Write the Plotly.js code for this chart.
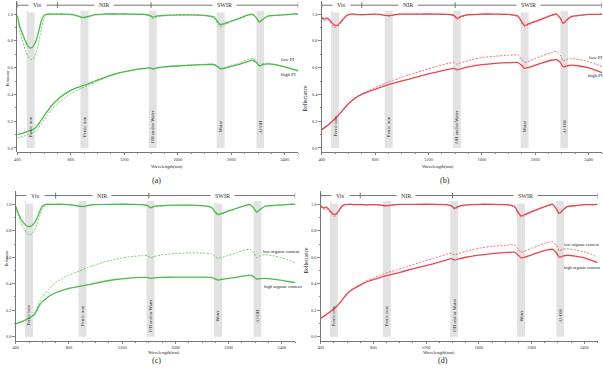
<!DOCTYPE html>
<html>
<head>
<meta charset="utf-8">
<script src="https://cdn.plot.ly/plotly-3.0.1.min.js"></script>
<style>
  html, body { margin: 0; padding: 0; background: #fff; }
  #chart { width: 603px; height: 372px; }
</style>
</head>
<body>
<div id="chart"></div>
<script>
// Wavelength grid (nm) shared by every spectrum
const wavelength = [400,420,440,460,480,500,520,540,560,580,
  600,625,650,700,750,800,850,880,910,940,
  980,1050,1150,1250,1350,1390,1415,1440,1500,1600,
  1700,1800,1870,1900,1920,1945,2000,2060,2120,2160,
  2190,2210,2235,2270,2330,2400,2460,2500];

// (a) green, PI groups: continuum-removed (upper) and reflectance (lower)
const aUpperHigh = [0.990,0.900,0.850,0.800,0.760,0.745,0.760,0.800,0.870,0.950,
  0.990,1.000,1.000,1.000,1.000,0.997,0.987,0.977,0.976,0.985,
  0.995,1.000,1.000,1.000,0.998,0.990,0.977,0.985,0.990,0.993,
  0.994,0.990,0.978,0.940,0.920,0.928,0.948,0.968,0.992,0.998,
  0.968,0.940,0.960,0.985,0.990,0.995,1.000,1.000];
const aUpperLow = [0.985,0.870,0.800,0.730,0.685,0.660,0.665,0.710,0.790,0.890,
  0.970,0.998,1.000,1.000,1.000,0.995,0.983,0.972,0.971,0.982,
  0.993,1.000,1.000,1.000,0.997,0.985,0.966,0.978,0.987,0.990,
  0.992,0.988,0.972,0.925,0.905,0.917,0.942,0.964,0.989,0.996,
  0.965,0.935,0.957,0.982,0.988,0.994,0.998,1.000];
const aLowerHigh = [0.100,0.105,0.110,0.118,0.125,0.132,0.140,0.155,0.180,0.210,
  0.240,0.275,0.310,0.360,0.400,0.430,0.452,0.462,0.472,0.482,
  0.500,0.525,0.558,0.580,0.594,0.598,0.590,0.596,0.605,0.612,
  0.618,0.622,0.622,0.605,0.590,0.595,0.610,0.625,0.645,0.655,
  0.635,0.612,0.622,0.628,0.622,0.605,0.588,0.575];
const aLowerLow = [0.075,0.080,0.085,0.092,0.100,0.108,0.118,0.130,0.152,0.180,
  0.210,0.245,0.280,0.330,0.372,0.405,0.432,0.446,0.459,0.471,
  0.490,0.520,0.555,0.578,0.593,0.596,0.588,0.595,0.605,0.614,
  0.620,0.625,0.627,0.610,0.595,0.600,0.617,0.635,0.658,0.668,
  0.650,0.625,0.632,0.633,0.622,0.603,0.585,0.572];

// (b) red, PI groups
const bUpperHigh = [0.975,0.962,0.972,0.955,0.930,0.915,0.918,0.938,0.962,0.983,
  0.995,1.000,0.998,0.995,0.997,0.999,0.995,0.990,0.989,0.994,
  0.999,1.000,1.000,1.000,0.998,0.990,0.967,0.980,0.995,1.000,
  1.000,0.998,0.985,0.940,0.915,0.925,0.945,0.968,0.990,1.000,
  0.965,0.930,0.955,0.983,0.990,0.998,0.997,1.000];
const bUpperLow = [0.968,0.950,0.962,0.940,0.915,0.900,0.905,0.928,0.955,0.978,
  0.993,1.000,0.997,0.994,0.996,0.998,0.993,0.987,0.986,0.992,
  0.998,1.000,1.000,1.000,0.997,0.987,0.960,0.975,0.992,0.998,
  0.999,0.996,0.980,0.928,0.905,0.917,0.940,0.965,0.988,0.998,
  0.960,0.925,0.950,0.980,0.988,0.997,0.996,1.000];
const bLowerHigh = [0.136,0.150,0.165,0.182,0.200,0.218,0.240,0.262,0.285,0.308,
  0.330,0.352,0.372,0.400,0.420,0.438,0.456,0.466,0.476,0.484,
  0.495,0.513,0.540,0.565,0.587,0.594,0.583,0.590,0.605,0.622,
  0.632,0.637,0.638,0.615,0.595,0.600,0.618,0.638,0.655,0.660,
  0.635,0.605,0.612,0.618,0.612,0.598,0.578,0.562];
const bLowerLow = [0.136,0.150,0.165,0.182,0.200,0.218,0.240,0.262,0.285,0.308,
  0.331,0.354,0.375,0.405,0.428,0.450,0.472,0.485,0.497,0.507,
  0.520,0.545,0.575,0.605,0.632,0.638,0.625,0.635,0.652,0.675,
  0.685,0.692,0.695,0.660,0.638,0.645,0.668,0.690,0.712,0.720,
  0.690,0.650,0.660,0.668,0.660,0.645,0.623,0.608];

// (c) green, organic content groups
const cUpperHigh = [0.985,0.930,0.885,0.860,0.840,0.832,0.838,0.858,0.895,0.945,
  0.985,1.000,1.000,1.000,1.000,0.998,0.990,0.985,0.984,0.990,
  0.997,1.000,1.000,1.000,0.998,0.990,0.975,0.985,0.990,0.993,
  0.994,0.990,0.978,0.940,0.925,0.930,0.950,0.970,0.990,0.998,
  0.970,0.940,0.960,0.985,0.990,0.996,1.000,1.000];
const cUpperLow = [0.975,0.910,0.860,0.820,0.785,0.770,0.775,0.800,0.850,0.910,
  0.965,0.995,1.000,1.000,1.000,0.997,0.988,0.982,0.981,0.988,
  0.996,1.000,1.000,1.000,0.997,0.988,0.970,0.982,0.988,0.991,
  0.993,0.988,0.975,0.932,0.918,0.925,0.946,0.968,0.988,0.997,
  0.967,0.936,0.957,0.983,0.989,0.995,0.999,1.000];
const cLowerHigh = [0.096,0.104,0.112,0.120,0.130,0.140,0.152,0.168,0.200,0.240,
  0.265,0.285,0.305,0.332,0.350,0.365,0.375,0.380,0.386,0.392,
  0.400,0.415,0.432,0.443,0.448,0.448,0.440,0.445,0.448,0.450,
  0.450,0.450,0.448,0.435,0.428,0.432,0.440,0.450,0.460,0.465,
  0.452,0.435,0.438,0.440,0.435,0.425,0.415,0.408];
const cLowerLow = [0.096,0.104,0.112,0.120,0.130,0.140,0.152,0.172,0.215,0.265,
  0.300,0.330,0.360,0.410,0.440,0.465,0.485,0.496,0.510,0.522,
  0.535,0.560,0.585,0.603,0.612,0.612,0.597,0.605,0.618,0.628,
  0.633,0.632,0.626,0.605,0.592,0.597,0.615,0.635,0.655,0.660,
  0.630,0.597,0.610,0.620,0.612,0.595,0.575,0.558];

// (d) red, organic content groups
const dUpperHigh = [0.990,0.972,0.978,0.965,0.940,0.922,0.930,0.955,0.985,0.998,
  1.000,1.000,0.998,0.997,0.996,0.998,0.995,0.990,0.990,0.994,
  0.999,1.000,1.000,1.000,0.998,0.990,0.970,0.982,0.995,1.000,
  1.000,0.998,0.985,0.935,0.912,0.922,0.945,0.968,0.990,1.000,
  0.962,0.932,0.955,0.983,0.990,0.998,0.997,1.000];
const dUpperLow = [0.982,0.962,0.968,0.952,0.928,0.908,0.918,0.945,0.978,0.995,
  0.999,1.000,0.997,0.996,0.995,0.997,0.993,0.987,0.987,0.992,
  0.998,1.000,1.000,1.000,0.997,0.987,0.963,0.977,0.992,0.998,
  0.999,0.996,0.980,0.925,0.902,0.913,0.940,0.965,0.988,0.998,
  0.958,0.926,0.950,0.980,0.988,0.997,0.996,1.000];
const dLowerHigh = [0.139,0.152,0.165,0.180,0.195,0.210,0.228,0.250,0.275,0.300,
  0.325,0.345,0.362,0.390,0.415,0.432,0.447,0.455,0.463,0.470,
  0.480,0.500,0.525,0.550,0.578,0.590,0.578,0.586,0.600,0.616,
  0.628,0.635,0.638,0.615,0.595,0.600,0.618,0.638,0.655,0.660,
  0.632,0.600,0.608,0.615,0.608,0.595,0.575,0.560];
const dLowerLow = [0.139,0.152,0.165,0.180,0.195,0.210,0.228,0.250,0.275,0.300,
  0.326,0.347,0.365,0.395,0.423,0.445,0.465,0.475,0.485,0.494,
  0.505,0.528,0.560,0.590,0.620,0.630,0.618,0.627,0.645,0.668,
  0.682,0.690,0.693,0.660,0.638,0.645,0.668,0.690,0.712,0.718,
  0.688,0.648,0.660,0.665,0.655,0.640,0.620,0.600];

// Absorption features (nm) and their labels
const bandRanges = [[470, 530], [872, 932], [1383, 1442], [1890, 1950], [2188, 2245]];
const bandNames = ['Ferric iron', 'Ferric iron', 'OH and/or Water', 'Water', 'Al-OH'];

// Spectral regions
const regionEdges = [400, 700, 1400, 2500];
const regionNames = ['Vis', 'NIR', 'SWIR'];

const panelLetters = ['(a)', '(b)', '(c)', '(d)'];
const groupNamesPI = ['low PI', 'high PI'];
const groupNamesOrganic = ['low organic content', 'high organic content'];

const GREEN = '#4dbb4d';
const RED = '#e8464e';
const SERIF = 'Liberation Serif, Times New Roman, serif';

const W = 603, H = 372;
const px = v => v / W;
const py = v => 1 - v / H;

const panels = [
  { color: GREEN, upper: [aUpperHigh, aUpperLow], lower: [aLowerHigh, aLowerLow], groups: groupNamesPI,
    xd: [px(17.3), px(298.2)], yd: [py(152.0), py(0.9)],
    labelPos: [[2355, 0.664], [2355, 0.545]], labelSize: 5, xTitle: [150, 166.5], letter: [150, 180],
    yTitle: [4, 68], yTitleSize: 3.3 },
  { color: RED, upper: [bUpperHigh, bUpperLow], lower: [bLowerHigh, bLowerLow], groups: groupNamesPI,
    xd: [px(321.7), px(602)], yd: [py(152.0), py(0.9)],
    labelPos: [[2385, 0.676], [2378, 0.543]], labelSize: 5, xTitle: [455, 166.5], letter: [452, 180],
    yTitle: [304, 83], yTitleSize: 5.5 },
  { color: GREEN, upper: [cUpperHigh, cUpperLow], lower: [cLowerHigh, cLowerLow], groups: groupNamesOrganic,
    xd: [px(15.7), px(295.2)], yd: [py(340.7), py(191.3)],
    labelPos: [[2243, 0.642], [2250, 0.383]], labelSize: 4.6, xTitle: [147, 355.5], letter: [150, 367],
    yTitle: [3, 268], yTitleSize: 3.3 },
  { color: RED, upper: [dUpperHigh, dUpperLow], lower: [dLowerHigh, dLowerLow], groups: groupNamesOrganic,
    xd: [px(320.7), px(597.5)], yd: [py(340.7), py(191.3)],
    labelPos: [[2232, 0.698], [2232, 0.524]], labelSize: 4.4, xTitle: [456, 355.5], letter: [450, 367],
    yTitle: [305, 276], yTitleSize: 5.5 }
];

const traces = [];
const shapes = [];
const annotations = [];
const layout = {
  width: W, height: H,
  margin: { l: 0, r: 0, t: 0, b: 0 },
  paper_bgcolor: '#fff', plot_bgcolor: '#fff',
  showlegend: false,
  font: { family: SERIF, color: '#222' }
};

const axisColor = '#555';
const tickFont = { family: SERIF, size: 4.4, color: '#333' };

panels.forEach((p, i) => {
  const sfx = i === 0 ? '' : String(i + 1);
  const xr = 'x' + sfx, yr = 'y' + sfx;

  const solid = { color: p.color, width: 1.3, shape: 'spline', smoothing: 0.5 };
  const dashed = { color: p.color, width: 0.9, dash: '2px,1.5px', shape: 'spline', smoothing: 0.5 };
  const base = { x: wavelength, xaxis: xr, yaxis: yr, type: 'scatter', mode: 'lines', hoverinfo: 'skip' };

  traces.push({ ...base, y: p.upper[0], line: solid, name: p.groups[1] });
  traces.push({ ...base, y: p.upper[1], line: dashed, opacity: 0.85, name: p.groups[0] });
  traces.push({ ...base, y: p.lower[0], line: solid, name: p.groups[1] });
  traces.push({ ...base, y: p.lower[1], line: dashed, opacity: 0.85, name: p.groups[0] });

  layout['xaxis' + sfx] = {
    domain: p.xd, anchor: yr, range: [400, 2500],
    tickmode: 'linear', tick0: 400, dtick: 400,
    ticks: 'outside', ticklen: 2.5, tickwidth: 0.7, tickcolor: axisColor,
    showline: true, linecolor: axisColor, linewidth: 0.8,
    showgrid: false, zeroline: false, tickfont: tickFont,
    minor: { tick0: 400, dtick: 100, ticks: 'outside', ticklen: 1.4, tickcolor: axisColor, showgrid: false },
    fixedrange: true
  };
  layout['yaxis' + sfx] = {
    domain: p.yd, anchor: xr, range: [-0.03, 1.098],
    tickmode: 'linear', tick0: 0, dtick: 0.2, tickformat: '.1f',
    ticks: 'outside', ticklen: 2.5, tickwidth: 0.7, tickcolor: axisColor,
    showline: true, linecolor: axisColor, linewidth: 0.8,
    showgrid: false, zeroline: false, tickfont: tickFont,
    minor: { tick0: 0, dtick: 0.1, ticks: 'outside', ticklen: 1.4, tickcolor: axisColor, showgrid: false },
    fixedrange: true
  };

  // absorption bands with vertical labels
  bandRanges.forEach((b, k) => {
    shapes.push({ type: 'rect', xref: xr, yref: yr, x0: b[0], x1: b[1], y0: 0, y1: 1.025,
      fillcolor: '#e2e2e2', line: { width: 0 }, layer: 'below' });
    annotations.push({ xref: xr, yref: yr, x: (b[0] + b[1]) / 2, y: 0.16, text: bandNames[k],
      textangle: -90, showarrow: false, font: { family: SERIF, size: 4.8, color: '#222' } });
  });

  // Vis / NIR / SWIR bracket
  const hy = 1.066;
  shapes.push({ type: 'line', xref: xr, yref: yr, x0: regionEdges[0], x1: regionEdges[regionEdges.length - 1],
    y0: hy, y1: hy, line: { color: '#666', width: 0.9 }, layer: 'above' });
  regionEdges.forEach(e => {
    shapes.push({ type: 'line', xref: xr, yref: yr, x0: e, x1: e, y0: hy - 0.022, y1: hy + 0.022,
      line: { color: '#666', width: 0.9 }, layer: 'above' });
  });
  regionNames.forEach((n, k) => {
    annotations.push({ xref: xr, yref: yr, x: (regionEdges[k] + regionEdges[k + 1]) / 2, y: hy,
      text: n, showarrow: false, bgcolor: '#fff', borderpad: 4,
      font: { family: SERIF, size: 6, color: '#333' } });
  });

  // group labels at the right end of the reflectance curves
  p.groups.forEach((g, k) => {
    annotations.push({ xref: xr, yref: yr, x: p.labelPos[k][0], y: p.labelPos[k][1], text: g,
      xanchor: 'left', showarrow: false, font: { family: SERIF, size: p.labelSize, color: '#222' } });
  });

  // axis titles and panel letter
  annotations.push({ xref: 'paper', yref: 'paper', x: px(p.xTitle[0]), y: py(p.xTitle[1]),
    text: 'Wavelength(nm)', showarrow: false, borderpad: 0, font: { family: SERIF, size: 4.7, color: '#222' } });
  annotations.push({ xref: 'paper', yref: 'paper', x: px(p.yTitle[0]), y: py(p.yTitle[1]),
    text: 'Reflectance', textangle: -90, showarrow: false,
    font: { family: SERIF, size: p.yTitleSize, color: '#222' } });
  annotations.push({ xref: 'paper', yref: 'paper', x: px(p.letter[0]), y: py(p.letter[1]),
    text: panelLetters[i], showarrow: false, font: { family: SERIF, size: 8, color: '#222' } });
});

layout.shapes = shapes;
layout.annotations = annotations;

Plotly.newPlot('chart', traces, layout, { staticPlot: true, displayModeBar: false });
</script>
</body>
</html>
